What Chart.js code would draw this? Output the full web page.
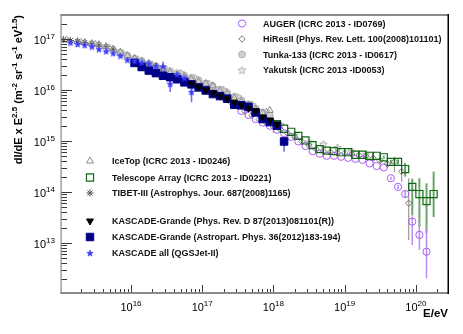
<!DOCTYPE html>
<html>
<head>
<meta charset="utf-8">
<title>Cosmic ray all-particle spectrum</title>
<script src="https://cdn.jsdelivr.net/npm/chart.js@4.4.1/dist/chart.umd.min.js"></script>
<style>
html,body{margin:0;padding:0;background:#ffffff;overflow:hidden;}
#box{position:relative;width:463px;height:334px;}
</style>
</head>
<body>
<div id="box"><canvas id="chart" width="463" height="334"></canvas></div>
<script>
// ---------------- data: log10(E/eV) and log10(dI/dE x E^2.5) ----------------
const augerLogE = [17.55,17.65,17.75,17.85,17.95,18.05,18.15,18.25,18.35,18.45,18.55,18.65,18.75,18.85,18.95,19.05,19.15,19.25,19.35,19.45,19.55,19.65,19.75,19.85,19.95,20.05,20.15];
const augerLogF = [15.59,15.51,15.43,15.36,15.30,15.22,15.15,15.08,14.99,14.90,14.80,14.75,14.71,14.71,14.69,14.67,14.65,14.63,14.56,14.51,14.48,14.27,14.10,13.96,13.42,13.16,12.83];
const augerErrUp = [0,0,0,0,0,0,0,0,0,0,0,0,0,0,0,0,0,0,0,0,0,0.03,0.04,0.06,0.10,0.26,0.46];
const augerErrLo = [0,0,0,0,0,0,0,0,0,0,0,0,0,0,0,0,0,0,0,0,0,0.03,0.04,0.07,0.46,0.29,0.52];

const hiresLogE = [17.2,17.3,17.4,17.5,17.6,17.7,17.8,17.9,18.0,18.1,18.2,18.3,18.4,18.5,18.6,18.7,18.8,18.9,19.0,19.1,19.2,19.3,19.4,19.5,19.6,19.7,19.8,19.9];
const hiresLogF = [15.92,15.85,15.76,15.68,15.58,15.50,15.42,15.36,15.28,15.22,15.15,15.08,14.99,14.92,14.84,14.80,14.78,14.76,14.76,14.74,14.72,14.70,14.66,14.62,14.55,14.59,14.40,13.78];
const hiresErrUp = [0.05,0.04,0.04,0.04,0.04,0.04,0.04,0.05,0.10,0.04,0.03,0.03,0.03,0.03,0.03,0.03,0.03,0.03,0.04,0.04,0.05,0.05,0.06,0.07,0.08,0.10,0.15,0.49];
const hiresErrLo = [0.05,0.04,0.04,0.04,0.04,0.04,0.04,0.05,0.12,0.04,0.03,0.03,0.03,0.03,0.03,0.03,0.03,0.03,0.04,0.04,0.05,0.05,0.06,0.07,0.08,0.20,0.20,0.72];

const tunkaLogE = [15.85,15.95,16.05,16.15,16.25,16.35,16.45,16.55,16.65,16.75,16.85,16.95,17.05,17.15,17.25,17.35,17.45,17.55,17.65,17.75,17.85,17.95];
const tunkaLogF = [16.73,16.67,16.61,16.56,16.51,16.46,16.42,16.37,16.33,16.28,16.24,16.19,16.13,16.07,16.01,15.95,15.87,15.80,15.72,15.64,15.56,15.50];

const yakutskLogE = [15.1,15.3,15.5,15.7,15.9,16.1,16.3,16.5,16.7,16.9,17.1,17.3,17.5,17.7,17.9,18.1,18.3,18.5,18.7,18.9,19.1,19.3];
const yakutskLogF = [16.99,16.95,16.91,16.83,16.71,16.60,16.50,16.41,16.34,16.24,16.13,16.01,15.87,15.72,15.58,15.32,15.12,14.98,14.94,14.87,14.80,14.74];

const iceTopLogE = [15.25,15.35,15.45,15.55,15.65,15.75,15.85,15.95,16.05,16.15,16.25,16.35,16.45,16.55,16.65,16.75,16.85,16.95,17.05,17.15,17.25,17.35,17.45,17.55,17.65,17.75,17.85,17.95];
const iceTopLogF = [16.95,16.93,16.91,16.89,16.85,16.80,16.74,16.67,16.62,16.57,16.52,16.47,16.42,16.34,16.29,16.26,16.21,16.16,16.12,16.08,15.98,15.92,15.84,15.77,15.70,15.62,15.55,15.60];

const taLogE = [18.05,18.15,18.25,18.35,18.45,18.55,18.65,18.75,18.85,18.95,19.05,19.15,19.25,19.35,19.45,19.55,19.65,19.75,19.85,19.95,20.05,20.15,20.25];
const taLogF = [15.33,15.24,15.18,15.10,15.01,14.92,14.84,14.81,14.80,14.78,14.78,14.73,14.73,14.71,14.71,14.68,14.59,14.59,14.45,14.10,13.96,13.82,13.96];
const taErrUp = [0,0,0,0,0,0,0,0,0,0,0,0,0,0,0,0.03,0.04,0.05,0.12,0.16,0.31,0.35,0.44];
const taErrLo = [0,0,0,0,0,0,0,0,0,0,0,0,0,0,0,0.03,0.04,0.05,0.15,0.56,0.64,0.63,0.45];

const tibetLogE = [15.05,15.15,15.25,15.35,15.45,15.55,15.65,15.75,15.85,15.95,16.05,16.15,16.25,16.35,16.45];
const tibetLogF = [16.99,16.97,16.95,16.93,16.91,16.88,16.85,16.80,16.74,16.68,16.62,16.57,16.52,16.47,16.43];

const kgPrdLogE = [16.85,16.95,17.05,17.15,17.25,17.35,17.45,17.55,17.65,17.75,17.85,17.95,18.05];
const kgPrdLogF = [16.12,16.06,16.00,15.94,15.88,15.83,15.76,15.70,15.64,15.59,15.47,15.41,15.33];

const kgLogE = [16.05,16.15,16.25,16.35,16.45,16.55,16.65,16.75,16.85,16.95,17.05,17.15,17.25,17.35,17.45,17.55,17.65,17.75,17.85,17.95,18.05,18.15];
const kgLogF = [16.53,16.45,16.38,16.33,16.28,16.25,16.21,16.15,16.11,16.05,15.99,15.92,15.88,15.83,15.71,15.70,15.67,15.56,15.43,15.37,15.30,14.99];
const kgErrUp = [0,0,0,0,0,0,0,0,0,0,0,0,0,0,0,0,0,0,0,0,0.02,0.03];
const kgErrLo = [0,0,0,0,0,0,0,0,0,0,0,0,0,0,0,0,0,0,0,0,0.03,0.20];

const kascadeLogE = [15.15,15.25,15.35,15.45,15.55,15.65,15.75,15.85,15.95,16.05,16.15,16.25,16.35,16.45,16.55,16.65,16.75,16.85];
const kascadeLogF = [16.93,16.90,16.88,16.85,16.80,16.76,16.72,16.67,16.59,16.57,16.54,16.52,16.47,16.46,16.12,16.31,16.24,15.96];
const kascadeErrUp = [0,0,0,0,0,0,0,0,0,0,0,0,0,0.10,0.10,0,0,0.08];
const kascadeErrLo = [0,0,0,0,0,0,0,0,0,0,0,0,0,0.10,0.16,0,0,0.20];

// axis decade labels and titles
const xTickExps = [16,17,18,19,20];
const yTickExps = [13,14,15,16,17];
const xTitle = 'E/eV';
const yTitleParts = [['dI/dE x E',0],['2.5',1],[' (m',0],['-2',1],[' sr',0],['-1',1],[' s',0],['-1',1],[' eV',0],['1.5',1],[')',0]];

const topLegendLabels = ['AUGER (ICRC 2013 - ID0769)','HiResII (Phys. Rev. Lett. 100(2008)101101)','Tunka-133 (ICRC 2013 - ID0617)','Yakutsk (ICRC 2013 -ID0053)'];
const bottomLegendLabels = ['IceTop (ICRC 2013 - ID0246)','Telescope Array (ICRC 2013 - ID0221)','TIBET-III (Astrophys. Jour. 687(2008)1165)','KASCADE-Grande (Phys. Rev. D 87(2013)081101(R))','KASCADE-Grande (Astropart. Phys. 36(2012)183-194)','KASCADE all (QGSJet-II)'];

// ---------------- helpers ----------------
const pts = (le, lf) => le.map((e, i) => ({x: Math.pow(10, e), y: Math.pow(10, lf[i])}));

function starCanvas(size, fill, stroke, lw) {
  const c = document.createElement('canvas');
  c.width = size; c.height = size;
  const g = c.getContext('2d');
  const cx = size / 2, cy = size / 2 + 0.4, R = size / 2 - 0.6, r = R * 0.42;
  g.beginPath();
  for (let i = 0; i < 10; i++) {
    const a = -Math.PI / 2 + i * Math.PI / 5;
    const rr = (i % 2) ? r : R;
    g.lineTo(cx + rr * Math.cos(a), cy + rr * Math.sin(a));
  }
  g.closePath();
  if (fill) { g.fillStyle = fill; g.fill(); }
  if (stroke) { g.strokeStyle = stroke; g.lineWidth = lw; g.stroke(); }
  return c;
}
const blueStar = starCanvas(8, '#3a3aff', '#3a3aff', 0.6);
const grayStar = starCanvas(9, null, '#9a9a9a', 0.9);

const CLEAR = 'rgba(0,0,0,0)';
function mk(label, data, o) {
  return Object.assign({
    label, data, showLine: false,
    pointBackgroundColor: CLEAR, pointBorderColor: '#888', pointBorderWidth: 1,
    pointRadius: 3.5, pointHoverRadius: 3.5, pointStyle: 'circle', pointRotation: 0
  }, o);
}

const datasets = [
  mk(bottomLegendLabels[5], pts(kascadeLogE, kascadeLogF), {pointStyle: blueStar, pointRadius: 4, pointBorderColor: '#3a3aff', errUp: kascadeErrUp, errLo: kascadeErrLo, errColor: '#6a6aff', errWidth: 1.5}),
  mk(bottomLegendLabels[3], pts(kgPrdLogE, kgPrdLogF), {pointStyle: 'triangle', pointRotation: 180, pointRadius: 4, pointBackgroundColor: '#000', pointBorderColor: '#000'}),
  mk(bottomLegendLabels[4], pts(kgLogE, kgLogF), {pointStyle: 'rect', pointRadius: 5.3, pointBackgroundColor: '#000088', pointBorderColor: '#000088', errUp: kgErrUp, errLo: kgErrLo, errColor: '#4a4ab0', errWidth: 1.2}),
  mk(bottomLegendLabels[1], pts(taLogE, taLogF), {pointStyle: 'rect', pointRadius: 5, pointBorderColor: '#116611', pointBorderWidth: 1.2, errUp: taErrUp, errLo: taErrLo, errColor: '#6aa66a', errWidth: 2}),
  mk(topLegendLabels[0], pts(augerLogE, augerLogF), {pointStyle: 'circle', pointRadius: 3.6, pointBorderColor: '#a85cf5', errUp: augerErrUp, errLo: augerErrLo, errColor: '#bb88f5', errWidth: 1.5}),
  mk(topLegendLabels[1], pts(hiresLogE, hiresLogF), {pointStyle: 'rectRot', pointRadius: 3.2, pointBorderColor: '#777', errUp: hiresErrUp, errLo: hiresErrLo, errColor: '#9a9a9a', errWidth: 1.2}),
  mk(bottomLegendLabels[0], pts(iceTopLogE, iceTopLogF), {pointStyle: 'triangle', pointRadius: 4, pointBorderColor: '#8a8a8a'}),
  mk(topLegendLabels[2], pts(tunkaLogE, tunkaLogF), {pointStyle: 'circle', pointRadius: 3.4, pointBackgroundColor: '#cfcfcf', pointBorderColor: '#b0b0b0'}),
  mk(topLegendLabels[3], pts(yakutskLogE, yakutskLogF), {pointStyle: grayStar, pointRadius: 4.5, pointBorderColor: '#9a9a9a'}),
  mk(bottomLegendLabels[2], pts(tibetLogE, tibetLogF), {pointStyle: 'star', pointRadius: 3.6, pointBorderColor: '#555'})
];

// legend layout: [datasetIndex, label, markerX, textX, rowY]
const legendRows = [
  [4, topLegendLabels[0], 242, 263, 23.5],
  [5, topLegendLabels[1], 242, 263, 39],
  [7, topLegendLabels[2], 242, 263, 54.5],
  [8, topLegendLabels[3], 242, 263, 70],
  [6, bottomLegendLabels[0], 90, 112, 161],
  [3, bottomLegendLabels[1], 90, 112, 177.5],
  [9, bottomLegendLabels[2], 90, 112, 193],
  [1, bottomLegendLabels[3], 90, 112, 221],
  [2, bottomLegendLabels[4], 90, 112, 237],
  [0, bottomLegendLabels[5], 90, 112, 253]
];

const FONT = '"Liberation Sans", Arial, Helvetica, sans-serif';

function drawMarker(ctx, ds, x, y) {
  ctx.save();
  ctx.fillStyle = ds.pointBackgroundColor;
  ctx.strokeStyle = ds.pointBorderColor;
  ctx.lineWidth = ds.pointBorderWidth;
  Chart.helpers.drawPoint(ctx, {pointStyle: ds.pointStyle, radius: ds.pointRadius, rotation: ds.pointRotation, borderWidth: ds.pointBorderWidth}, x, y);
  ctx.restore();
}

function richWidth(ctx, parts, base, sup) {
  let w = 0;
  parts.forEach(([t, s]) => { ctx.font = s ? sup : base; w += ctx.measureText(t).width; });
  return w;
}
function drawRich(ctx, parts, x, y, base, sup, rise) {
  ctx.textAlign = 'left'; ctx.textBaseline = 'alphabetic';
  parts.forEach(([t, s]) => {
    ctx.font = s ? sup : base;
    ctx.fillText(t, x, s ? y - rise : y);
    x += ctx.measureText(t).width;
  });
}

const errorBars = {
  id: 'errorBars',
  beforeDatasetsDraw(chart) {
    const {ctx, chartArea: a} = chart;
    const xs = chart.scales.x, ys = chart.scales.y;
    ctx.save();
    ctx.beginPath(); ctx.rect(a.left, a.top, a.right - a.left, a.bottom - a.top); ctx.clip();
    chart.data.datasets.forEach(d => {
      if (!d.errUp) return;
      ctx.strokeStyle = d.errColor; ctx.lineWidth = d.errWidth || 1;
      d.data.forEach((p, i) => {
        const up = d.errUp[i], lo = d.errLo[i];
        if (!up && !lo) return;
        const x = xs.getPixelForValue(p.x);
        ctx.beginPath();
        ctx.moveTo(x, ys.getPixelForValue(p.y * Math.pow(10, up)));
        ctx.lineTo(x, ys.getPixelForValue(p.y / Math.pow(10, lo)));
        ctx.stroke();
      });
    });
    ctx.restore();
  }
};

const frameAxes = {
  id: 'frameAxes',
  afterDraw(chart) {
    const {ctx, chartArea: a} = chart;
    const xs = chart.scales.x, ys = chart.scales.y;
    ctx.save();
    // tick marks (inside the frame)
    ctx.strokeStyle = '#3a3a3a'; ctx.lineWidth = 1;
    for (let e = 12; e <= 17; e++) {
      for (let m = 1; m <= 9; m++) {
        const v = m * Math.pow(10, e);
        if (v < ys.min || v > ys.max) continue;
        const y = Math.round(ys.getPixelForValue(v)) + 0.5;
        const len = m === 1 ? 11 : 6;
        ctx.beginPath(); ctx.moveTo(a.left, y); ctx.lineTo(a.left + len, y); ctx.stroke();
      }
    }
    for (let e = 15; e <= 20; e++) {
      for (let m = 1; m <= 9; m++) {
        const v = m * Math.pow(10, e);
        if (v < xs.min || v > xs.max) continue;
        const x = Math.round(xs.getPixelForValue(v)) + 0.5;
        const len = m === 1 ? 8 : 4;
        ctx.beginPath(); ctx.moveTo(x, a.bottom); ctx.lineTo(x, a.bottom - len); ctx.stroke();
      }
    }
    // frame
    ctx.fillStyle = '#8a8a8a';
    ctx.fillRect(a.left - 0.5, a.top - 1, a.right - a.left + 1, 2);
    ctx.fillRect(a.left - 0.5, a.bottom - 1, a.right - a.left + 1, 2);
    ctx.fillRect(a.left - 0.5, a.top - 1, 1.2, a.bottom - a.top + 2);
    ctx.fillStyle = '#000';
    ctx.fillRect(a.right - 0.5, a.top - 1, 1.5, a.bottom - a.top + 2);

    // tick labels
    ctx.fillStyle = '#000';
    const base = '11px ' + FONT, sup = '8px ' + FONT;
    yTickExps.forEach(e => {
      const y = ys.getPixelForValue(Math.pow(10, e));
      const parts = [['10', 0], [String(e), 1]];
      const w = richWidth(ctx, parts, base, sup);
      drawRich(ctx, parts, 55 - w, y + 5, base, sup, 5);
    });
    xTickExps.forEach(e => {
      const x = xs.getPixelForValue(Math.pow(10, e));
      const parts = [['10', 0], [String(e), 1]];
      const w = richWidth(ctx, parts, base, sup);
      drawRich(ctx, parts, x - w / 2, 311, base, sup, 5);
    });
    // axis titles
    ctx.font = 'bold 11.5px ' + FONT; ctx.textAlign = 'right'; ctx.textBaseline = 'alphabetic';
    ctx.fillText(xTitle, a.right, 317);
    const tb = 'bold 11px ' + FONT, ts = 'bold 8px ' + FONT;
    const tw = richWidth(ctx, yTitleParts, tb, ts);
    ctx.save();
    ctx.translate(21.5, a.top + tw);
    ctx.rotate(-Math.PI / 2);
    drawRich(ctx, yTitleParts, 0, 0, tb, ts, 4.5);
    ctx.restore();

    // legends
    legendRows.forEach(([di, label, mx, tx, y]) => {
      drawMarker(ctx, chart.data.datasets[di], mx, y);
      ctx.fillStyle = '#111';
      ctx.font = 'bold 9px ' + FONT; ctx.textAlign = 'left'; ctx.textBaseline = 'alphabetic';
      ctx.fillText(label, tx, y + 3.3);
    });
    ctx.restore();
  }
};

new Chart(document.getElementById('chart'), {
  type: 'scatter',
  data: {datasets},
  options: {
    responsive: false,
    animation: false,
    devicePixelRatio: 1,
    layout: {padding: {left: 61, right: 15, top: 15, bottom: 41}},
    plugins: {legend: {display: false}, tooltip: {enabled: false}},
    scales: {
      x: {type: 'logarithmic', min: 1.04e15, max: 2.83e20, display: false, bounds: 'data'},
      y: {type: 'logarithmic', min: 1.047e12, max: 2.95e17, display: false, bounds: 'data'}
    }
  },
  plugins: [errorBars, frameAxes]
});
</script>
</body>
</html>
